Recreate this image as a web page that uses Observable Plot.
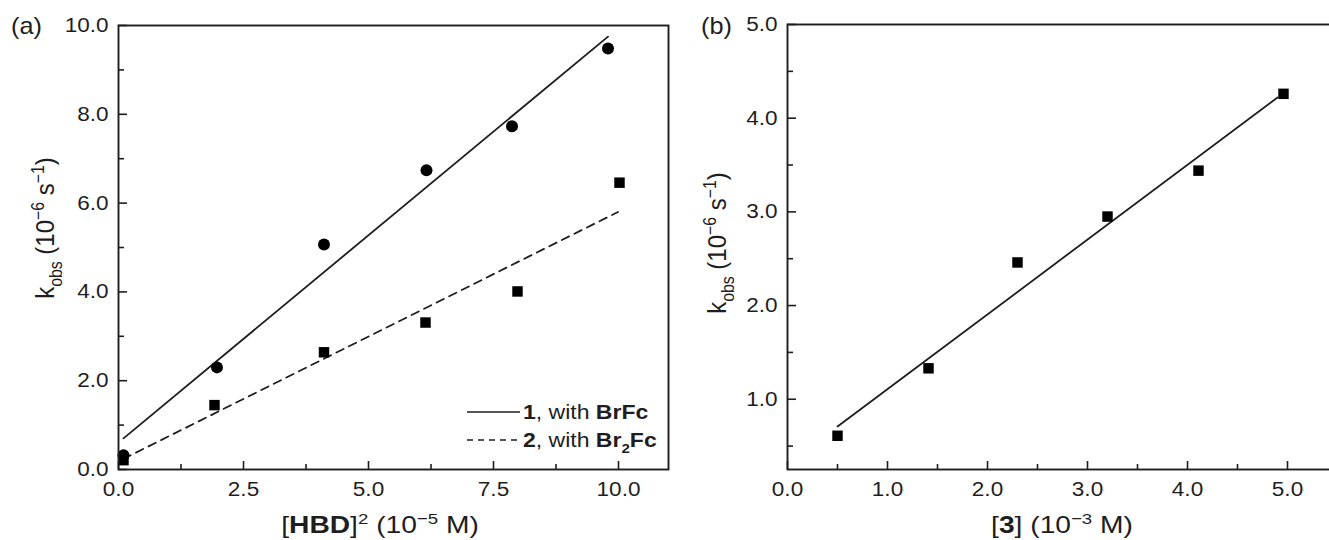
<!DOCTYPE html>
<html><head><meta charset="utf-8">
<script src="https://cdn.jsdelivr.net/npm/d3@7"></script>
<script src="https://cdn.jsdelivr.net/npm/@observablehq/plot@0.6"></script>
<style>
html,body{margin:0;padding:0;background:#fff;overflow:hidden;}
#wrap{position:relative;width:1329px;height:540px;overflow:hidden;font-family:"Liberation Sans",Arial,Helvetica,sans-serif;}
#wrap svg{position:absolute;top:0;overflow:visible;}
</style></head><body><div id="wrap"></div>
<script>
// ---- Panel (a): k_obs vs [HBD]^2 ----
const hbdX1 = [0.10, 1.97, 4.11, 6.16, 7.87, 9.79];
const kobs1 = [0.32, 2.30, 5.07, 6.74, 7.73, 9.48];
const hbdX2 = [0.10, 1.92, 4.11, 6.14, 7.98, 10.02];
const kobs2 = [0.21, 1.45, 2.64, 3.31, 4.01, 6.46];
const fitX1 = [0.10, 9.79];
const fitY1 = [0.70, 9.75];
const fitX2 = [0.10, 9.99];
const fitY2 = [0.24, 5.80];
const xTicksA = [0, 2.5, 5, 7.5, 10];
const xMinorA = [1.25, 3.75, 6.25, 8.75];
const yTicksA = [0, 2, 4, 6, 8, 10];
const yMinorA = [1, 3, 5, 7, 9];

// ---- Panel (b): k_obs vs [3] ----
const conc3 = [0.50, 1.41, 2.30, 3.20, 4.11, 4.96];
const kobs3 = [0.61, 1.33, 2.46, 2.95, 3.44, 4.26];
const fitX3 = [0.50, 4.90];
const fitY3 = [0.71, 4.22];
const xTicksB = [0, 1, 2, 3, 4, 5];
const xMinorB = [0.5, 1.5, 2.5, 3.5, 4.5];
const yTicksB = [1, 2, 3, 4, 5];
const yMinorB = [0.5, 1.5, 2.5, 3.5, 4.5];

const ink = "#1e1e1e";
const FONT = '"Liberation Sans", Arial, Helvetica, sans-serif';
const zipXY = (xs, ys) => xs.map((x, i) => ({x, y: ys[i]}));

function axes(xMaj, xMin, yMaj, yMin) {
  const common = {color: ink, strokeWidth: 1.6, label: null, fontSize: 20.5};
  return [
    Plot.axisX(xMaj, {...common, anchor: "bottom", tickSize: -8, tickPadding: 20, tickFormat: d => d.toFixed(1)}),
    Plot.axisX(xMin, {...common, anchor: "bottom", tickSize: -5, tickPadding: 0, tickFormat: () => ""}),
    Plot.axisY(yMaj, {...common, anchor: "left", tickSize: -9, tickPadding: 19, tickFormat: d => d.toFixed(1)}),
    Plot.axisY(yMin, {...common, anchor: "left", tickSize: -6, tickPadding: 0, tickFormat: () => ""})
  ];
}

const plotA = Plot.plot({
  width: 670, height: 540,
  marginLeft: 118, marginRight: 2, marginTop: 25, marginBottom: 71,
  x: {domain: [0, 11], label: null},
  y: {domain: [0, 10], label: null},
  style: {fontFamily: FONT, background: "transparent", color: ink},
  marks: [
    ...axes(xTicksA, xMinorA, yTicksA, yMinorA),
    Plot.line(zipXY(fitX1, fitY1), {x: "x", y: "y", stroke: ink, strokeWidth: 1.8}),
    Plot.line(zipXY(fitX2, fitY2), {x: "x", y: "y", stroke: ink, strokeWidth: 1.8, strokeDasharray: "8,6"}),
    Plot.dot(zipXY(hbdX1, kobs1), {x: "x", y: "y", r: 6, fill: "#000", symbol: "circle"}),
    Plot.dot(zipXY(hbdX2, kobs2), {x: "x", y: "y", r: 5.9, fill: "#000", symbol: "square"}),
    Plot.frame({stroke: ink, strokeWidth: 1.9})
  ]
});

const plotB = Plot.plot({
  width: 669, height: 540,
  marginLeft: 117, marginRight: 2, marginTop: 24, marginBottom: 71,
  x: {domain: [0, 5.5], label: null},
  y: {domain: [0.25, 5.0], label: null},
  style: {fontFamily: FONT, background: "transparent", color: ink},
  marks: [
    ...axes(xTicksB, xMinorB, yTicksB, yMinorB),
    Plot.line(zipXY(fitX3, fitY3), {x: "x", y: "y", stroke: ink, strokeWidth: 1.8}),
    Plot.dot(zipXY(conc3, kobs3), {x: "x", y: "y", r: 5.9, fill: "#000", symbol: "square"}),
    Plot.frame({stroke: ink, strokeWidth: 1.9})
  ]
});

const wrap = document.getElementById("wrap");
plotA.style.left = "0px";
plotB.style.left = "670px";
wrap.appendChild(plotA);
wrap.appendChild(plotB);

// rich text helper: parts = [[text, {bold, sub, sup}], ...]
function rich(g, parts, size, anchor = "start") {
  const t = g.append("text").attr("font-family", FONT).attr("fill", ink)
    .attr("font-size", size).attr("text-anchor", anchor);
  let shift = 0;
  parts.forEach(([s, o = {}]) => {
    const target = o.sub ? size * 0.3 : o.sup ? -size * 0.38 : 0;
    const sp = t.append("tspan").text(s).attr("dy", target - shift);
    shift = target;
    if (o.bold) sp.attr("font-weight", "bold");
    if (o.sub || o.sup) sp.attr("font-size", size * 0.66);
  });
  return t;
}

function decorate(svgNode, opts) {
  const svg = d3.select(svgNode);
  const g = svg.append("g");
  rich(g, [[opts.tag]], 23).attr("x", opts.tagX).attr("y", 34).attr("data-sx", 1.1);
  rich(g, [["k"], ["obs", {sub: true}], [" (10"], ["\u22126", {sup: true}], [" s"], ["\u22121", {sup: true}], [")"]], 24, "middle")
    .attr("transform", `translate(${opts.yTitleX},${opts.yTitleY}) rotate(-90) scale(1,1.1)`)
    .attr("data-sx", "none");
  rich(g, opts.xTitle, 23.5, "middle").attr("x", opts.xTitleX).attr("y", 533).attr("data-sx", 1.2);
  return g;
}

decorate(plotA, {
  tag: "(a)", tagX: 11, yTitleX: 54, yTitleY: 228, xTitleX: 380,
  xTitle: [["["], ["HBD", {bold: true}], ["]"], ["2", {sup: true}], [" (10"], ["\u22125", {sup: true}], [" M)"]]
});
decorate(plotB, {
  tag: "(b)", tagX: 31, yTitleX: 56, yTitleY: 243, xTitleX: 392,
  xTitle: [["["], ["3", {bold: true}], ["] (10"], ["\u22123", {sup: true}], [" M)"]]
});

// legend for panel (a)
const leg = d3.select(plotA).append("g");
leg.append("line").attr("x1", 467).attr("x2", 520).attr("y1", 412).attr("y2", 412).attr("stroke", ink).attr("stroke-width", 1.7);
leg.append("line").attr("x1", 467).attr("x2", 520).attr("y1", 440).attr("y2", 440).attr("stroke", ink).attr("stroke-width", 1.7).attr("stroke-dasharray", "6,5");
rich(leg, [["1", {bold: true}], [", with "], ["BrFc", {bold: true}]], 19.5).attr("x", 523).attr("y", 419).attr("data-sx", 1.18);
rich(leg, [["2", {bold: true}], [", with "], ["Br", {bold: true}], ["2", {bold: true, sub: true}], ["Fc", {bold: true}]], 19.5).attr("x", 523).attr("y", 447).attr("data-sx", 1.18);

// horizontal stretch to match the reference's wide lettering
function stretch(svgNode, defSx) {
  svgNode.querySelectorAll("text").forEach(t => {
    const ds = t.getAttribute("data-sx");
    if (ds === "none") return;
    const sx = ds ? +ds : defSx;
    const bb = t.getBBox();
    const anchor = getComputedStyle(t).textAnchor;
    const ax = anchor === "end" ? bb.x + bb.width : anchor === "middle" ? bb.x + bb.width / 2 : bb.x;
    const old = t.getAttribute("transform") || "";
    t.setAttribute("transform", `${old} translate(${ax},0) scale(${sx},1) translate(${-ax},0)`);
  });
}
stretch(plotA, 1.1);
stretch(plotB, 1.1);
</script></body></html>
